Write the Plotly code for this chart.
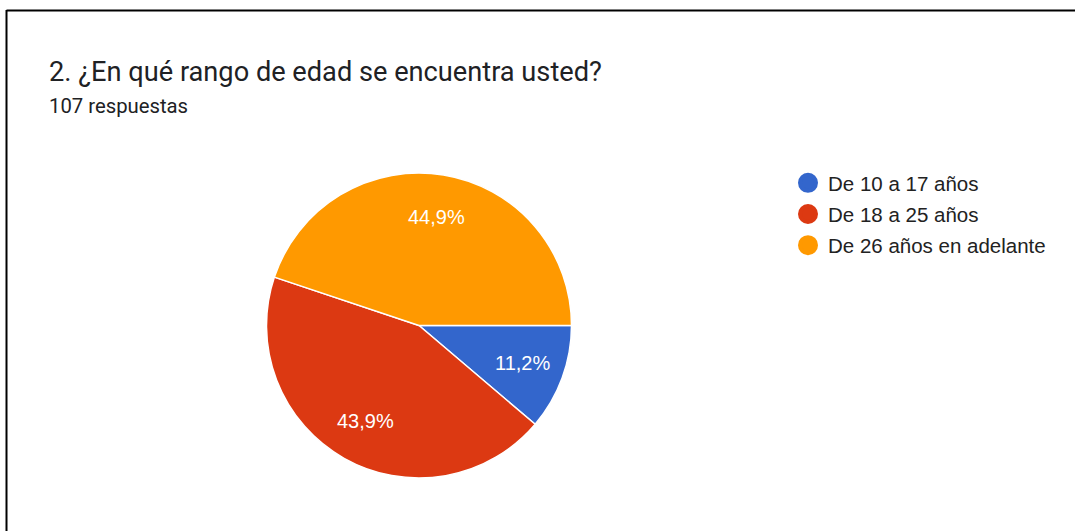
import math
import plotly.graph_objects as go

# Survey results: age ranges of respondents
categories = ["De 10 a 17 años", "De 18 a 25 años", "De 26 años en adelante"]
responses = [12, 47, 48]
colors = ["#3366CC", "#DC3912", "#FF9900"]

title_text = "2. ¿En qué rango de edad se encuentra usted?"
subtitle_text = "107 respuestas"

W, H = 1075, 531

# Pie placement in pixels (left, right, top, bottom)
pie_left, pie_right, pie_top, pie_bottom = 266, 572, 173, 478
dom_x = [pie_left / W, pie_right / W]
dom_y = [1 - pie_bottom / H, 1 - pie_top / H]

fig = go.Figure()

fig.add_trace(go.Pie(
    labels=categories,
    values=responses,
    marker=dict(colors=colors, line=dict(color="white", width=1.5)),
    sort=False,
    direction="clockwise",
    rotation=90,
    textinfo="none",
    hoverinfo="label+percent",
    showlegend=False,
    domain=dict(x=dom_x, y=dom_y),
))

# Legend entries drawn as round markers
for name, col in zip(categories, colors):
    fig.add_trace(go.Scatter(
        x=[None], y=[None], mode="markers", name=name,
        marker=dict(symbol="circle", size=16, color=col, line=dict(color=col, width=4)),
        legendgroup=name,
        showlegend=True,
    ))

# Percentage labels placed along each slice's bisector
cx = (pie_left + pie_right) / 2
cy = (pie_top + pie_bottom) / 2
radius = min(pie_right - pie_left, pie_bottom - pie_top) / 2
label_r = 0.72 * radius
total = sum(responses)
label_annotations = []
cum = 0
for v in responses:
    frac = v / total
    mid = (cum + frac / 2) * 2 * math.pi  # clockwise from 3 o'clock
    cum += frac
    px = cx + label_r * math.cos(mid)
    py = cy + label_r * math.sin(mid)
    txt = f"{frac * 100:.1f}%".replace(".", ",")
    label_annotations.append(dict(
        text=txt, x=px / W, y=1 - py / H, xref="paper", yref="paper",
        xanchor="center", yanchor="middle", showarrow=False,
        font=dict(family="Liberation Sans, Arial, sans-serif", size=20, color="white"),
    ))

fig.update_layout(
    width=W, height=H,
    margin=dict(l=0, r=0, t=0, b=0),
    paper_bgcolor="white",
    plot_bgcolor="white",
    separators=",.",
    xaxis=dict(visible=False),
    yaxis=dict(visible=False),
    legend=dict(
        x=788 / W, y=1 - 163 / H, xanchor="left", yanchor="top",
        font=dict(family="Liberation Sans, Arial, sans-serif", size=20.5, color="#222222"),
        tracegroupgap=1.5,
        bgcolor="rgba(0,0,0,0)",
    ),
    annotations=[
        dict(text=title_text, x=47 / W, y=1 - 72 / H, xref="paper", yref="paper",
             xanchor="left", yanchor="middle", showarrow=False,
             font=dict(family="Roboto, sans-serif", size=27.2, color="#202124")),
        dict(text=subtitle_text, x=47 / W, y=1 - 106 / H, xref="paper", yref="paper",
             xanchor="left", yanchor="middle", showarrow=False,
             font=dict(family="Roboto, sans-serif", size=20.3, color="#202124")),
    ] + label_annotations,
    shapes=[
        dict(type="line", xref="paper", yref="paper", x0=6.5 / W, x1=1.0,
             y0=1 - 10.5 / H, y1=1 - 10.5 / H, line=dict(color="black", width=2)),
        dict(type="line", xref="paper", yref="paper", x0=6.5 / W, x1=6.5 / W,
             y0=0, y1=1 - 10 / H, line=dict(color="black", width=2)),
    ],
)

fig.write_html("out.html")
